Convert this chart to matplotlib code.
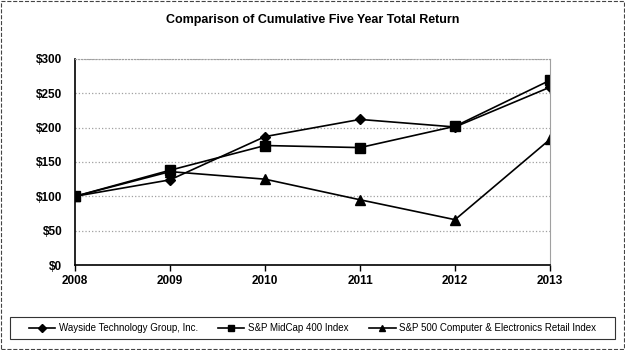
import matplotlib.pyplot as plt
from matplotlib.patches import Rectangle

plt.rcParams['font.family'] = ['Liberation Sans', 'DejaVu Sans']

# Werte
years = [2008, 2009, 2010, 2011, 2012, 2013]
wayside = [100, 124, 187, 212, 201, 259]
midcap = [100, 138, 174, 171, 202, 269]
computer_retail = [100, 136, 125, 95, 66, 183]
labels = ['Wayside Technology Group, Inc.', 'S&P MidCap 400 Index',
          'S&P 500 Computer & Electronics Retail Index']
yticks = [0, 50, 100, 150, 200, 250, 300]

fig = plt.figure(figsize=(6.25, 3.5), dpi=100)
ax = fig.add_axes([75 / 625, 1 - 265 / 350, 475 / 625, 206 / 350])

ax.plot(years, wayside, color='black', lw=1.2, marker='D', ms=5.5, label=labels[0])
ax.plot(years, midcap, color='black', lw=1.2, marker='s', ms=6.5, label=labels[1])
ax.plot(years, computer_retail, color='black', lw=1.2, marker='^', ms=7, label=labels[2])

ax.set_xlim(2008, 2013)
ax.set_ylim(0, 300)
ax.set_xticks(years)
ax.set_yticks(yticks)
ax.set_yticklabels(['$%d' % v for v in yticks])
ax.grid(axis='y', color='#a0a0a0', ls=':', lw=0.9)
ax.set_axisbelow(True)
for lab in ax.get_xticklabels() + ax.get_yticklabels():
    lab.set_fontweight('bold')
    lab.set_fontsize(8.5)
ax.tick_params(axis='x', length=4, width=1, direction='out', pad=3)
ax.tick_params(axis='y', length=0, pad=9)
ax.spines['left'].set_linewidth(1.2)
ax.spines['bottom'].set_linewidth(1.2)
ax.spines['top'].set_color('#a0a0a0')
ax.spines['right'].set_color('#a0a0a0')
ax.spines['top'].set_linestyle(':')

fig.text(0.5, 1 - 20 / 350, 'Comparison of Cumulative Five Year Total Return',
         ha='center', va='center', fontsize=9, fontweight='bold')

leg = fig.legend(loc='center', bbox_to_anchor=(0.5, 1 - 328 / 350), ncol=3,
                 fontsize=7, frameon=False, handlelength=2.7, handletextpad=0.4,
                 columnspacing=2.1, markerscale=0.7)

# Legendenrahmen und äußerer Rahmen
fig.patches.append(Rectangle((10 / 625, 1 - 339 / 350), 605 / 625, 22 / 350,
                             transform=fig.transFigure, fill=False,
                             edgecolor='#333333', lw=0.8))
fig.patches.append(Rectangle((0.002, 0.003), 0.996, 0.994, transform=fig.transFigure,
                             fill=False, edgecolor='#444444', lw=0.8, ls='--'))

fig.savefig('out.png', dpi=100)
